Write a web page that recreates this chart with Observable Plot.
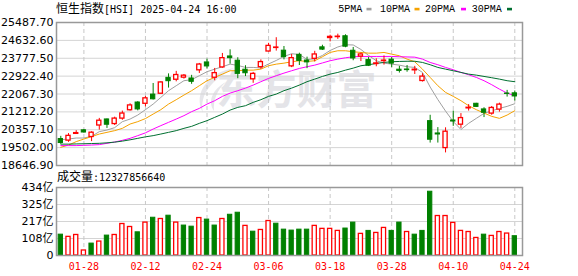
<!DOCTYPE html>
<html><head><meta charset="utf-8">
<script src="https://cdn.jsdelivr.net/npm/d3@7"></script>
<script src="https://cdn.jsdelivr.net/npm/@observablehq/plot@0.6"></script>
<style>
body{margin:0;background:#fff;}
#wrap{position:relative;width:578px;height:276px;overflow:hidden;background:#fff;}
#wrap svg{position:absolute;left:0;top:0;}
</style></head><body><div id="wrap"></div>
<script>
const dates = ["01-23","01-24","01-27","01-28","02-03","02-04","02-05","02-06","02-07","02-10","02-11","02-12","02-13","02-14","02-17","02-18","02-19","02-20","02-21","02-24","02-25","02-26","02-27","02-28","03-03","03-04","03-05","03-06","03-07","03-10","03-11","03-12","03-13","03-14","03-17","03-18","03-19","03-20","03-21","03-24","03-25","03-26","03-27","03-28","03-31","04-01","04-02","04-03","04-07","04-08","04-09","04-10","04-11","04-14","04-15","04-16","04-17","04-22","04-23","04-24"];
const open = [19913,19837,20160,20330,20010,20560,20850,20630,20890,21290,21660,21600,22040,22080,22840,22750,22850,22810,23200,23577,22846,23338,23864,23660,23230,22770,23350,24100,24270,24140,23390,23940,23670,23750,24300,24745,24790,24830,24136,23860,23690,23500,23640,23710,23230,23240,23200,22690,20770,20180,19480,20800,20600,21380,21600,21330,21130,21320,22090,22100];
const high = [20042,20172,20314,20370,20260,20900,20870,20960,21250,21600,21700,21950,22570,22650,23030,23150,23000,22960,23530,23735,23290,24007,24180,23800,23420,23100,23700,24490,24760,24340,23960,24020,23830,24110,24400,24880,24930,24900,24294,24030,23820,23750,23890,23810,23390,23430,23390,23040,21050,20460,20450,21250,21130,21560,21620,21410,21470,21630,22240,22210];
const low = [19660,19755,20130,20200,19790,20340,20420,20560,20810,21250,21260,21450,21780,22060,22350,22650,22780,22530,23050,23257,22700,23300,23496,22800,22900,22580,23250,24080,24120,23700,23330,23430,23280,23600,24150,24560,24680,24280,23658,23620,23380,23370,23450,23330,23070,23110,23000,22640,19720,19720,19250,20520,20420,21250,21430,20940,21050,21200,21920,21730];
const close = [19722,20066,20197,20225,20217,20790,20597,20891,21133,21521,21330,21860,21814,22620,22680,22976,22944,22650,23477,23386,23066,23782,23782,23030,23060,23030,23594,24370,24290,23830,23782,23650,23580,23959,24190,24800,24810,24330,23768,23960,23420,23530,23665,23520,23170,23210,23230,22900,19880,20130,20264,20750,20915,21410,21450,21170,21400,21560,22070,21950];
const volume = [133,119,131,32,76,89,127,131,201,182,148,210,241,233,254,210,191,184,239,229,191,233,260,273,189,152,163,220,203,165,159,165,165,189,170,170,157,172,210,138,157,144,176,157,210,150,133,157,407,252,252,208,157,150,112,133,125,150,140,123.28];
const volUp = [0,1,1,1,0,1,0,1,1,1,0,1,0,1,0,1,0,0,1,0,0,1,0,0,1,0,1,1,0,0,0,0,0,1,1,1,1,0,0,1,0,1,1,0,0,1,0,0,0,1,1,1,1,1,1,0,1,1,1,0];
const ma5 = [19884,19913,19961,19961,20042,20266,20343,20458,20744,20868,21059,21317,21585,21905,22225,22464,22703,22750,22942,23133,23257,23371,23496,23434,23338,23338,23314,23505,23672,23864,23993,23959,23720,23744,23911,24150,24317,24422,24413,24198,23911,23658,23543,23496,23448,23371,23338,23099,22400,21800,21250,20750,20370,20663,20902,21141,21260,21379,21475,21604];
const ma10 = [19516,19626,19789,19913,20028,20152,20233,20314,20424,20630,20744,20892,21107,21317,21585,21795,22015,22225,22464,22703,22860,23018,23180,23180,23209,23209,23257,23419,23496,23543,23610,23658,23625,23658,23849,24055,24136,24136,24088,24055,24021,24021,24055,23973,23896,23735,23610,23257,22860,22464,22144,21953,21747,21508,21317,21155,20997,20902,21059,21270];
const ma20 = [19598,19598,19598,19612,19626,19645,19708,19770,19851,19946,20075,20209,20391,20553,20711,20868,21031,21222,21379,21585,21747,21953,22110,22225,22349,22493,22655,22813,22942,23066,23180,23290,23371,23448,23553,23658,23735,23801,23849,23864,23864,23864,23864,23864,23849,23840,23830,23735,23577,23467,23338,23228,23099,22989,22860,22703,22512,22301,22110,21986];
const ma30 = [19669,19669,19679,19688,19698,19708,19731,19765,19813,19875,19946,20018,20075,20152,20233,20314,20424,20520,20663,20792,20950,21107,21298,21427,21508,21666,21795,21953,22063,22225,22349,22493,22655,22779,22908,23018,23099,23209,23305,23419,23467,23529,23577,23610,23625,23634,23634,23577,23467,23338,23257,23180,23099,23018,22970,22908,22846,22779,22703,22655];
const priceTicks = [18646.90,19502.00,20357.10,21212.20,22067.30,22922.40,23777.50,24632.60,25487.70];
const volTicks = [0,108.5,217,325.5,434];
const volTickLabels = ["0","108亿","217亿","325亿","434亿"];
const xTickLabels = ["01-28","02-12","02-24","03-06","03-18","03-28","04-10","04-24"];
const maNames = ["5PMA","10PMA","20PMA","30PMA"];
const maColors = ["#a0a0a0","#f5a200","#ff00ff","#006f30"];
const titleCJK = "恒生指数", titleLatin = "[HSI] 2025-04-24 16:00";
const volTitleCJK = "成交量", volTitleValue = ":12327856640";
const watermark = "东方财富";

const RED = "#ff0000", GREEN = "#008000";
const rows = dates.map((d, i) => ({i, d, o: open[i], h: high[i], l: low[i], c: close[i], v: volume[i], vu: volUp[i]}));
const up = rows.filter(r => r.c >= r.o), down = rows.filter(r => r.c < r.o);
const xTickIdx = xTickLabels.map(t => dates.indexOf(t));
const volLabel = new Map(volTicks.map((t, k) => [t, volTickLabels[k]]));
const xDomain = [-0.56, 60];
const W = 0.27, WG = 0.28;
const numFont = "DejaVu Sans, Noto Sans CJK SC, sans-serif";
const mas = [ma5, ma10, ma20, ma30];
const wrap = document.getElementById("wrap");

// faint watermark logo (decoration behind the chart)
const bg = d3.create("svg").attr("width", 578).attr("height", 276);
bg.append("path").attr("fill", "#e6e6ea")
  .attr("d", "M234,68 C210,72 192,92 203,113 C199,94 212,80 234,68 Z M226,82 C213,89 207,101 214,111 C213,100 217,90 226,82 Z");
wrap.appendChild(bg.node());

const price = Plot.plot({
  width: 578, height: 276, marginLeft: 56, marginRight: 56, marginTop: 22, marginBottom: 111,
  style: {background: "transparent", overflow: "visible"},
  x: {type: "linear", domain: xDomain, axis: null},
  y: {domain: [priceTicks[0], priceTicks[priceTicks.length - 1]], axis: null},
  marks: [
    Plot.text([watermark], {text: d => d, frameAnchor: "middle", dx: 7, dy: -3, fontSize: 40, fontWeight: "bold", fill: "#e4e4e8", fontFamily: "Noto Sans CJK SC"}),
    Plot.gridY(priceTicks, {stroke: "#d4d4d4", strokeOpacity: 1}),
    Plot.ruleX(xTickIdx, {stroke: "#c8c8c8", strokeDasharray: "4,3"}),
    ...mas.map((m, k) => Plot.line(rows, {x: "i", y: r => m[r.i], stroke: maColors[k], strokeWidth: 1})),
    Plot.ruleX(rows, {x: "i", y1: "l", y2: "h", stroke: r => r.c >= r.o ? RED : GREEN, strokeWidth: 1}),
    Plot.rect(up, {x1: r => r.i - W, x2: r => r.i + W, y1: "o", y2: "c", fill: "#fff", stroke: RED, strokeWidth: 1.3}),
    Plot.rect(down, {x1: r => r.i - WG, x2: r => r.i + WG, y1: "o", y2: "c", fill: GREEN, stroke: GREEN, strokeWidth: 1}),
    Plot.axisY(priceTicks, {tickSize: 0, tickPadding: 3, tickFormat: d => d.toFixed(2), fontSize: 11, fontFamily: numFont, fill: "#000", label: null}),
    Plot.frame({stroke: "#999", strokeWidth: 1.5})
  ]
});

const vol = Plot.plot({
  width: 578, height: 276, marginLeft: 56, marginRight: 56, marginTop: 187, marginBottom: 21,
  style: {background: "transparent", overflow: "visible"},
  x: {type: "linear", domain: xDomain, axis: null},
  y: {domain: [0, volTicks[volTicks.length - 1]], axis: null},
  marks: [
    Plot.gridY(volTicks.slice(1, -1), {stroke: "#d4d4d4", strokeOpacity: 1}),
    Plot.ruleX(xTickIdx, {stroke: "#c8c8c8", strokeDasharray: "4,3"}),
    Plot.rectY(rows.filter(r => r.vu), {x1: r => r.i - W, x2: r => r.i + W, y1: 0, y2: "v", fill: "#fff", stroke: RED, strokeWidth: 1.3}),
    Plot.rectY(rows.filter(r => !r.vu), {x1: r => r.i - WG, x2: r => r.i + WG, y1: 0, y2: "v", fill: GREEN, stroke: GREEN, strokeWidth: 1}),
    Plot.axisY(volTicks, {tickSize: 0, tickPadding: 3, tickFormat: d => volLabel.get(d), fontSize: 11, fontFamily: numFont, fill: "#000", label: null}),
    Plot.axisX(xTickIdx, {tickSize: 0, tickPadding: 7, tickFormat: i => dates[i], fontSize: 10, fontFamily: "DejaVu Sans Mono, monospace", fill: RED, label: null}),
    Plot.frame({stroke: "#999", strokeWidth: 1.5})
  ]
});

wrap.appendChild(price);
wrap.appendChild(vol);

// text overlay: title, legend, volume caption
const ov = d3.create("svg").attr("width", 578).attr("height", 276);
const t = ov.append("text").attr("x", 56).attr("y", 12.5).attr("fill", "#000");
t.append("tspan").attr("font-family", "Noto Sans CJK SC").attr("font-size", 12).text(titleCJK);
t.append("tspan").attr("font-family", "DejaVu Sans Mono").attr("font-size", 10).text(titleLatin);
const legX = [338.3, 380, 425, 471.7];
const swX = [366.5, 414.5, 461, 507];
maNames.forEach((n, k) => {
  ov.append("text").attr("x", legX[k]).attr("y", 12).attr("font-family", "Liberation Mono, monospace").attr("font-size", 10).attr("fill", "#000").text(n);
  ov.append("rect").attr("x", swX[k]).attr("y", 7.8).attr("width", 5).attr("height", 2.6).attr("fill", maColors[k]);
});
const v = ov.append("text").attr("x", 57).attr("y", 181).attr("fill", "#000");
v.append("tspan").attr("font-family", "Noto Sans CJK SC").attr("font-size", 12).text(volTitleCJK);
v.append("tspan").attr("font-family", "DejaVu Sans Mono").attr("font-size", 10).text(volTitleValue);
wrap.appendChild(ov.node());
</script></body></html>
